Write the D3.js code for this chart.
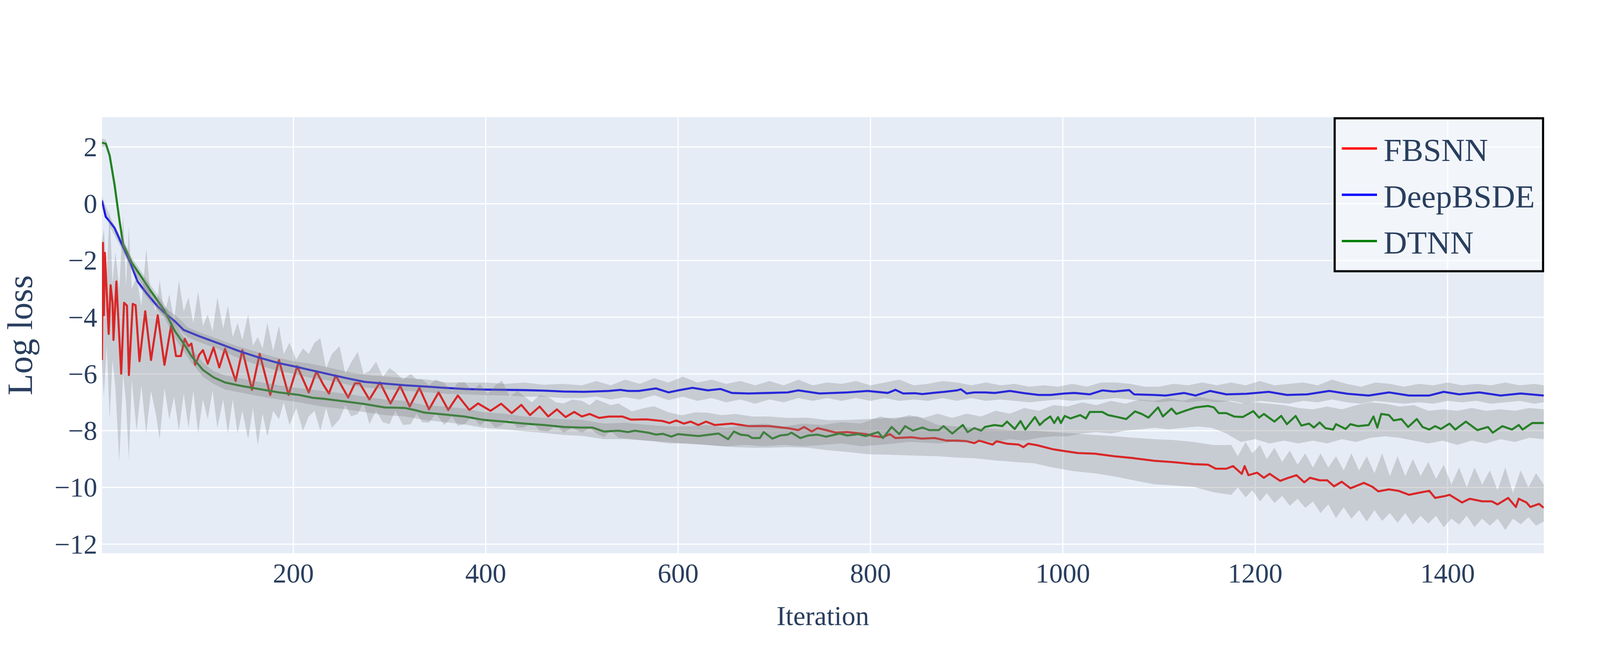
<!DOCTYPE html>
<html>
<head>
<meta charset="utf-8">
<script src="https://cdn.jsdelivr.net/npm/d3@7"></script>
<style>
  body { margin: 0; background: #fff; }
  text { font-family: "Liberation Serif", "Times New Roman", serif; fill: #2a3f5f; }
</style>
</head>
<body>
<div id="chart"></div>
<script>
// series names + colours
const seriesNames = ["FBSNN", "DeepBSDE", "DTNN"];
const seriesColors = ["#ff0000", "#0000ff", "#008000"];
const xTicks = [200, 400, 600, 800, 1000, 1200, 1400];
const yTicks = [2, 0, -2, -4, -6, -8, -10, -12];

// mean log loss, [iteration, value]
const fbsnn = [[1,-5.51],[2,-1.38],[3,-3.93],[4,-1.73],[8,-4.59],[10,-2.87],[12,-3.49],[13,-4.80],[16,-2.74],[21,-5.99],[24,-3.49],[27,-3.59],[29,-6.04],[33,-3.53],[36,-3.58],[40,-5.55],[46,-3.79],[52,-5.51],[59,-3.93],[66,-5.68],[73,-4.28],[78,-5.37],[83,-5.37],[87,-4.76],[91,-5.02],[94,-4.93],[98,-5.68],[102,-5.33],[106,-5.16],[111,-5.64],[117,-5.07],[123,-5.77],[129,-5.11],[140,-6.25],[147,-5.16],[157,-6.56],[165,-5.29],[176,-6.74],[185,-5.51],[195,-6.74],[204,-5.73],[216,-6.65],[224,-5.91],[231,-6.37],[237,-6.69],[244,-6.05],[257,-6.83],[264,-6.33],[269,-6.33],[279,-6.90],[290,-6.30],[301,-7.04],[311,-6.42],[321,-7.15],[331,-6.49],[341,-7.25],[351,-6.65],[361,-7.27],[371,-6.76],[383,-7.27],[392,-7.04],[405,-7.30],[416,-7.05],[427,-7.38],[437,-7.09],[446,-7.45],[456,-7.15],[465,-7.50],[474,-7.25],[483,-7.52],[492,-7.34],[500,-7.50],[508,-7.41],[518,-7.55],[528,-7.50],[542,-7.50],[551,-7.61],[567,-7.60],[584,-7.66],[591,-7.73],[598,-7.64],[606,-7.75],[613,-7.68],[621,-7.80],[629,-7.68],[638,-7.80],[656,-7.75],[673,-7.84],[694,-7.84],[714,-7.91],[725,-7.98],[731,-7.87],[739,-8.03],[745,-7.91],[754,-7.98],[764,-8.07],[776,-8.05],[795,-8.12],[803,-8.19],[813,-8.23],[820,-8.12],[826,-8.26],[843,-8.23],[853,-8.28],[867,-8.26],[879,-8.35],[890,-8.35],[900,-8.37],[908,-8.44],[913,-8.35],[927,-8.49],[931,-8.37],[942,-8.46],[954,-8.49],[959,-8.58],[964,-8.46],[973,-8.51],[989,-8.65],[1002,-8.72],[1016,-8.79],[1033,-8.81],[1053,-8.90],[1074,-8.97],[1095,-9.06],[1115,-9.11],[1136,-9.18],[1151,-9.20],[1159,-9.34],[1170,-9.34],[1177,-9.25],[1186,-9.52],[1189,-9.25],[1193,-9.57],[1202,-9.48],[1209,-9.66],[1215,-9.52],[1226,-9.77],[1233,-9.68],[1243,-9.57],[1251,-9.82],[1257,-9.66],[1267,-9.75],[1275,-9.75],[1282,-9.96],[1290,-9.80],[1299,-10.03],[1313,-9.84],[1322,-9.98],[1328,-10.14],[1339,-10.07],[1349,-10.12],[1360,-10.26],[1370,-10.19],[1381,-10.12],[1387,-10.37],[1398,-10.30],[1402,-10.26],[1415,-10.53],[1423,-10.40],[1436,-10.49],[1446,-10.49],[1452,-10.60],[1463,-10.37],[1471,-10.69],[1474,-10.40],[1482,-10.53],[1486,-10.69],[1495,-10.58],[1500,-10.72]];

const deepbsde = [[1,0.11],[5,-0.46],[7,-0.54],[14,-0.85],[21,-1.38],[30,-2.04],[38,-2.74],[48,-3.18],[59,-3.62],[69,-3.93],[77,-4.15],[86,-4.45],[102,-4.67],[123,-4.93],[144,-5.20],[164,-5.42],[185,-5.62],[206,-5.77],[212,-5.82],[233,-5.98],[254,-6.14],[274,-6.28],[295,-6.34],[316,-6.40],[336,-6.44],[357,-6.49],[378,-6.53],[398,-6.55],[419,-6.56],[440,-6.57],[461,-6.59],[481,-6.62],[502,-6.63],[528,-6.60],[540,-6.56],[548,-6.60],[559,-6.60],[577,-6.51],[590,-6.65],[600,-6.58],[615,-6.49],[631,-6.58],[644,-6.53],[656,-6.67],[673,-6.69],[694,-6.67],[714,-6.65],[725,-6.58],[747,-6.69],[776,-6.65],[797,-6.60],[818,-6.67],[826,-6.56],[834,-6.69],[846,-6.68],[854,-6.71],[867,-6.66],[877,-6.63],[890,-6.58],[894,-6.54],[900,-6.69],[908,-6.65],[919,-6.65],[929,-6.67],[945,-6.60],[960,-6.68],[975,-6.74],[987,-6.74],[1002,-6.69],[1012,-6.67],[1028,-6.72],[1041,-6.58],[1053,-6.62],[1069,-6.57],[1074,-6.72],[1095,-6.74],[1107,-6.76],[1126,-6.67],[1138,-6.76],[1153,-6.60],[1170,-6.72],[1191,-6.70],[1214,-6.63],[1233,-6.74],[1254,-6.72],[1277,-6.60],[1296,-6.70],[1318,-6.76],[1339,-6.65],[1360,-6.76],[1381,-6.76],[1396,-6.63],[1412,-6.72],[1433,-6.65],[1455,-6.76],[1476,-6.69],[1500,-6.76]];

const dtnn = [[1,2.15],[5,2.12],[9,1.70],[14,0.69],[19,-0.54],[23,-1.42],[32,-2.08],[40,-2.48],[52,-3.09],[65,-3.71],[77,-4.50],[86,-4.93],[94,-5.37],[106,-5.86],[117,-6.12],[129,-6.30],[144,-6.41],[164,-6.53],[185,-6.65],[206,-6.74],[220,-6.84],[233,-6.88],[254,-6.97],[274,-7.06],[295,-7.18],[316,-7.20],[326,-7.27],[336,-7.36],[357,-7.43],[378,-7.50],[398,-7.62],[419,-7.68],[440,-7.75],[461,-7.80],[481,-7.87],[500,-7.89],[511,-7.89],[523,-8.03],[538,-8.00],[548,-8.05],[555,-8.00],[569,-8.07],[577,-8.14],[584,-8.11],[593,-8.21],[600,-8.12],[621,-8.19],[642,-8.10],[652,-8.30],[658,-8.03],[665,-8.14],[673,-8.17],[677,-8.26],[685,-8.26],[689,-8.05],[698,-8.28],[706,-8.17],[714,-8.14],[718,-8.07],[727,-8.26],[735,-8.17],[745,-8.14],[754,-8.21],[768,-8.10],[776,-8.17],[787,-8.12],[795,-8.19],[808,-8.05],[813,-8.26],[822,-7.87],[830,-8.12],[836,-7.84],[844,-8.00],[854,-7.89],[861,-7.98],[871,-7.98],[876,-7.84],[885,-8.10],[896,-7.80],[901,-8.05],[908,-7.91],[915,-8.00],[919,-7.87],[929,-7.80],[937,-7.84],[942,-7.68],[950,-7.94],[956,-7.66],[961,-7.96],[971,-7.52],[976,-7.80],[981,-7.64],[987,-7.50],[991,-7.73],[995,-7.52],[998,-7.73],[1002,-7.48],[1008,-7.57],[1018,-7.45],[1024,-7.57],[1028,-7.34],[1041,-7.34],[1047,-7.45],[1057,-7.52],[1066,-7.59],[1075,-7.32],[1082,-7.41],[1089,-7.54],[1099,-7.18],[1104,-7.50],[1113,-7.22],[1118,-7.41],[1128,-7.29],[1138,-7.18],[1145,-7.15],[1151,-7.13],[1157,-7.18],[1162,-7.38],[1170,-7.38],[1178,-7.50],[1187,-7.52],[1198,-7.31],[1204,-7.54],[1209,-7.41],[1220,-7.68],[1227,-7.48],[1233,-7.77],[1242,-7.48],[1248,-7.82],[1256,-7.75],[1261,-7.89],[1267,-7.71],[1273,-7.91],[1281,-7.96],[1284,-7.77],[1294,-7.94],[1299,-7.77],[1307,-7.84],[1318,-7.80],[1323,-7.50],[1327,-7.89],[1331,-7.41],[1339,-7.45],[1344,-7.64],[1352,-7.59],[1359,-7.87],[1368,-7.59],[1374,-7.87],[1381,-7.96],[1387,-7.84],[1393,-7.94],[1402,-7.75],[1408,-7.96],[1419,-7.68],[1431,-7.98],[1442,-7.87],[1447,-8.07],[1457,-7.84],[1467,-7.96],[1474,-7.80],[1478,-7.96],[1488,-7.73],[1500,-7.73]];

// spread bands, [iteration, lower, upper]
const fbsnnBand = [[1,-5.6,-1.3],[3,-6.8,-0.9],[6,-5.0,-2.5],[9,-7.6,-0.2],[12,-5.5,-2.8],[15,-6.5,-1.7],[19,-9.1,-3.0],[23,-6.0,-0.4],[26,-7.0,-2.9],[29,-9.0,-0.8],[32,-6.2,-3.0],[37,-8.0,-2.6],[42,-6.4,-3.6],[47,-8.1,-1.6],[52,-6.6,-3.3],[57,-7.4,-3.8],[61,-8.3,-2.7],[66,-6.5,-3.9],[71,-7.6,-3.2],[76,-6.8,-4.1],[81,-8.0,-2.7],[86,-6.7,-3.8],[91,-7.9,-3.3],[96,-6.6,-4.2],[101,-8.1,-3.1],[106,-6.9,-4.3],[111,-7.6,-3.9],[116,-6.6,-4.5],[121,-7.9,-3.3],[127,-6.9,-4.4],[132,-8.1,-3.6],[137,-6.9,-4.7],[142,-8.1,-4.2],[147,-7.3,-4.8],[153,-8.3,-3.9],[158,-7.2,-5.0],[163,-8.5,-4.7],[168,-7.4,-5.1],[173,-8.2,-4.2],[179,-7.3,-5.2],[185,-7.6,-4.3],[190,-7.0,-5.3],[196,-7.8,-4.9],[203,-7.2,-5.5],[210,-8.0,-5.1],[216,-7.5,-5.3],[222,-7.3,-4.9],[228,-8.0,-4.74],[234,-7.2,-5.8],[240,-7.9,-5.3],[248,-7.6,-5.02],[254,-7.1,-6.0],[260,-7.5,-5.6],[267,-7.41,-5.22],[273,-7.0,-6.0],[279,-7.77,-5.9],[286,-7.3,-5.57],[293,-7.7,-6.1],[300,-7.77,-5.8],[306,-7.3,-5.94],[314,-7.8,-6.2],[322,-7.77,-6.0],[328,-7.4,-6.19],[334,-7.7,-6.19],[341,-7.72,-6.4],[348,-7.4,-6.2],[357,-7.8,-6.33],[365,-7.5,-6.6],[371,-7.82,-6.3],[378,-7.77,-6.29],[386,-7.5,-6.6],[394,-7.82,-6.35],[402,-7.6,-6.7],[410,-7.9,-6.4],[417,-7.8,-6.23],[425,-7.6,-6.8],[433,-7.9,-6.6],[440,-7.88,-6.79],[448,-7.7,-7.0],[456,-8.0,-6.75],[465,-8.03,-6.81],[473,-7.8,-7.0],[481,-8.07,-7.04],[490,-7.9,-6.9],[500,-8.07,-6.95],[508,-7.9,-7.1],[515,-8.1,-6.9],[523,-8.23,-7.0],[530,-8.0,-7.1],[538,-8.25,-7.04],[552,-8.3,-7.32],[565,-8.35,-7.2],[575,-8.37,-7.14],[590,-8.4,-7.35],[604,-8.45,-7.46],[618,-8.48,-7.35],[631,-8.51,-7.37],[645,-8.55,-7.45],[660,-8.58,-7.41],[677,-8.6,-7.5],[694,-8.6,-7.5],[714,-8.58,-7.55],[735,-8.6,-7.54],[756,-8.69,-7.63],[776,-8.75,-7.62],[797,-8.83,-7.59],[820,-8.85,-7.55],[849,-8.88,-7.5],[870,-8.9,-7.8],[890,-8.95,-7.85],[908,-8.97,-7.9],[930,-9.05,-7.95],[950,-9.1,-8.0],[970,-9.15,-8.0],[990,-9.3,-8.05],[1012,-9.43,-8.1],[1033,-9.5,-8.15],[1053,-9.61,-8.19],[1074,-9.75,-8.25],[1095,-9.89,-8.3],[1115,-9.93,-8.33],[1136,-9.98,-8.4],[1157,-10.17,-8.51],[1175,-10.26,-8.5],[1182,-10.0,-8.9],[1190,-10.35,-8.4],[1197,-10.1,-8.8],[1205,-10.49,-8.5],[1212,-10.2,-9.0],[1220,-10.55,-8.6],[1228,-10.3,-9.1],[1236,-10.65,-8.7],[1244,-10.4,-9.2],[1252,-10.72,-8.8],[1260,-10.5,-9.3],[1268,-10.9,-8.8],[1276,-10.6,-9.3],[1284,-11.08,-8.9],[1292,-10.7,-9.4],[1300,-11.1,-8.8],[1308,-10.8,-9.4],[1316,-11.2,-8.9],[1324,-10.8,-9.5],[1332,-11.18,-8.8],[1340,-10.9,-9.6],[1348,-11.25,-8.9],[1356,-10.9,-9.6],[1364,-11.3,-9.0],[1372,-11.0,-9.6],[1380,-11.27,-9.1],[1388,-11.0,-9.7],[1396,-11.4,-9.2],[1404,-11.1,-9.9],[1412,-11.31,-9.3],[1420,-11.0,-10.0],[1428,-11.4,-9.3],[1436,-11.1,-9.9],[1444,-11.35,-9.4],[1452,-11.1,-10.1],[1460,-11.5,-9.3],[1468,-11.1,-10.2],[1476,-11.3,-9.4],[1484,-11.05,-10.0],[1492,-11.35,-9.5],[1500,-11.2,-9.9]];

const deepbsdeBand = [[1,-0.05,0.25],[10,-0.85,-0.5],[20,-1.5,-1.15],[30,-2.2,-1.85],[40,-2.95,-2.6],[50,-3.4,-3.05],[60,-3.8,-3.45],[70,-4.1,-3.75],[80,-4.4,-4.0],[90,-4.7,-4.35],[100,-4.85,-4.5],[120,-5.1,-4.75],[140,-5.4,-5.0],[160,-5.65,-5.2],[180,-5.85,-5.4],[200,-6.0,-5.55],[220,-6.15,-5.65],[240,-6.25,-5.8],[260,-6.4,-5.95],[280,-6.5,-6.05],[300,-6.55,-6.1],[320,-6.6,-6.15],[340,-6.65,-6.2],[360,-6.7,-6.3],[380,-6.72,-6.3],[400,-6.75,-6.3],[420,-6.76,-6.35],[440,-6.8,-6.3],[460,-6.8,-6.38],[480,-6.85,-6.35],[500,-6.85,-6.4],[515,-6.8,-6.25],[530,-6.9,-6.4],[545,-6.82,-6.2],[560,-6.9,-6.35],[575,-6.75,-6.15],[590,-6.92,-6.3],[605,-6.8,-6.1],[620,-6.95,-6.3],[635,-6.85,-6.2],[650,-7.0,-6.35],[665,-6.9,-6.25],[680,-7.05,-6.4],[695,-6.9,-6.25],[710,-7.0,-6.4],[725,-6.85,-6.2],[740,-6.95,-6.4],[755,-6.85,-6.3],[770,-6.95,-6.35],[785,-6.85,-6.25],[800,-6.95,-6.4],[815,-6.85,-6.3],[830,-6.95,-6.2],[845,-6.9,-6.4],[860,-6.95,-6.35],[875,-6.85,-6.25],[890,-6.95,-6.3],[905,-6.85,-6.4],[920,-6.95,-6.3],[935,-6.9,-6.4],[950,-6.95,-6.35],[965,-7.0,-6.45],[980,-6.95,-6.4],[995,-6.9,-6.45],[1010,-6.95,-6.35],[1025,-6.9,-6.45],[1040,-6.9,-6.3],[1055,-6.85,-6.3],[1070,-6.9,-6.35],[1085,-6.95,-6.45],[1100,-7.0,-6.45],[1115,-6.95,-6.35],[1130,-7.0,-6.4],[1145,-6.95,-6.3],[1160,-7.0,-6.4],[1175,-6.95,-6.3],[1190,-7.05,-6.4],[1205,-6.95,-6.25],[1220,-7.0,-6.4],[1235,-7.05,-6.35],[1250,-6.95,-6.3],[1265,-7.0,-6.4],[1280,-6.9,-6.2],[1295,-7.0,-6.35],[1310,-7.05,-6.45],[1325,-6.95,-6.3],[1340,-7.0,-6.35],[1355,-7.05,-6.45],[1370,-7.0,-6.35],[1385,-7.05,-6.4],[1400,-6.95,-6.3],[1415,-7.0,-6.4],[1430,-6.95,-6.35],[1445,-7.05,-6.4],[1460,-7.0,-6.3],[1475,-6.95,-6.4],[1490,-7.05,-6.35],[1500,-7.0,-6.4]];

const dtnnBand = [[1,2.0,2.3],[5,2.0,2.25],[9,1.55,1.85],[14,0.5,0.85],[19,-0.7,-0.35],[23,-1.6,-1.25],[32,-2.3,-1.9],[40,-2.7,-2.3],[52,-3.3,-2.9],[65,-3.95,-3.5],[77,-4.75,-4.25],[86,-5.2,-4.7],[94,-5.6,-5.1],[106,-6.1,-5.6],[117,-6.35,-5.9],[129,-6.55,-6.05],[144,-6.65,-6.15],[164,-6.78,-6.28],[185,-6.9,-6.4],[206,-7.0,-6.5],[230,-7.15,-6.6],[255,-7.25,-6.7],[275,-7.35,-6.8],[295,-7.45,-6.9],[316,-7.5,-6.95],[336,-7.62,-7.1],[357,-7.7,-7.15],[378,-7.78,-7.22],[398,-7.9,-7.35],[419,-7.95,-7.4],[440,-8.02,-7.5],[461,-8.08,-7.55],[481,-8.15,-7.6],[500,-8.18,-7.62],[523,-8.3,-7.75],[545,-8.3,-7.72],[570,-8.35,-7.8],[590,-8.45,-7.85],[610,-8.45,-7.85],[630,-8.5,-7.8],[650,-8.55,-7.9],[670,-8.5,-7.8],[690,-8.55,-7.75],[710,-8.5,-7.85],[730,-8.55,-7.75],[750,-8.5,-7.8],[770,-8.45,-7.7],[790,-8.55,-7.75],[810,-8.5,-7.5],[825,-8.45,-7.6],[840,-8.4,-7.45],[855,-8.42,-7.55],[870,-8.45,-7.4],[885,-8.4,-7.55],[900,-8.42,-7.4],[915,-8.35,-7.5],[930,-8.4,-7.3],[945,-8.3,-7.4],[960,-8.35,-7.2],[975,-8.25,-7.3],[990,-8.2,-7.1],[1005,-8.2,-7.15],[1020,-8.1,-7.0],[1035,-8.05,-7.1],[1050,-8.1,-6.95],[1065,-8.0,-7.05],[1080,-7.95,-6.9],[1095,-7.9,-6.95],[1110,-7.95,-6.85],[1125,-7.9,-6.95],[1140,-7.85,-6.8],[1155,-7.9,-6.9],[1170,-8.1,-6.95],[1185,-8.4,-7.05],[1200,-8.3,-7.0],[1215,-8.45,-7.05],[1230,-8.35,-7.1],[1245,-8.45,-7.2],[1260,-8.35,-7.25],[1275,-8.45,-7.15],[1290,-8.3,-7.25],[1305,-8.4,-7.1],[1320,-8.25,-7.0],[1335,-8.2,-7.05],[1350,-8.25,-7.15],[1365,-8.35,-7.1],[1380,-8.45,-7.3],[1395,-8.35,-7.25],[1410,-8.5,-7.3],[1425,-8.35,-7.2],[1440,-8.45,-7.3],[1455,-8.3,-7.25],[1470,-8.4,-7.3],[1485,-8.25,-7.2],[1500,-8.3,-7.25]];

const lines = [fbsnn, deepbsde, dtnn];
const bands = [fbsnnBand, deepbsdeBand, dtnnBand];

const width = 4194;
const height = 1656;
const margin = {left: 261, right: 242, top: 300, bottom: 240};
const plotW = width - margin.left - margin.right;
const plotH = height - margin.top - margin.bottom;

const svg = d3.select("#chart")
    .append("svg")
    .attr("width", width)
    .attr("height", height);

const x = d3.scaleLinear().domain([1, 1500]).range([0, plotW]);
const y = d3.scaleLinear().domain([-12.32, 3.05]).range([plotH, 0]);

const g = svg.append("g")
    .attr("transform", `translate(${margin.left},${margin.top})`);

g.append("rect")
    .attr("width", plotW)
    .attr("height", plotH)
    .attr("fill", "#e5ecf6");

g.append("clipPath").attr("id", "clip")
    .append("rect").attr("width", plotW).attr("height", plotH);

// grid
g.append("g")
    .selectAll("line")
    .data(xTicks)
    .join("line")
    .attr("x1", d => x(d)).attr("x2", d => x(d))
    .attr("y1", 0).attr("y2", plotH)
    .attr("stroke", "#fff").attr("stroke-width", 3);

g.append("g")
    .selectAll("line")
    .data(yTicks)
    .join("line")
    .attr("x1", 0).attr("x2", plotW)
    .attr("y1", d => y(d)).attr("y2", d => y(d))
    .attr("stroke", "#fff").attr("stroke-width", 3);

const data = g.append("g").attr("clip-path", "url(#clip)");

const line = d3.line()
    .x(d => x(d[0]))
    .y(d => y(d[1]));

const area = d3.area()
    .x(d => x(d[0]))
    .y0(d => y(d[1]))
    .y1(d => y(d[2]));

// mean lines below the translucent bands
data.selectAll("path.mean")
    .data(lines)
    .join("path")
    .attr("class", "mean")
    .attr("d", line)
    .attr("fill", "none")
    .attr("stroke", (d, i) => seriesColors[i])
    .attr("stroke-width", 5.3)
    .attr("stroke-linejoin", "round");

data.selectAll("path.band")
    .data(bands)
    .join("path")
    .attr("class", "band")
    .attr("d", area)
    .attr("fill", "rgba(128,128,128,0.3)")
    .attr("stroke", "none");

// tick labels
const fmt = v => (v < 0 ? "\u2212" + Math.abs(v) : String(v));

g.append("g")
    .selectAll("text")
    .data(yTicks)
    .join("text")
    .attr("x", -12)
    .attr("y", d => y(d))
    .attr("dy", "0.34em")
    .attr("text-anchor", "end")
    .attr("font-size", 70)
    .text(fmt);

g.append("g")
    .selectAll("text")
    .data(xTicks)
    .join("text")
    .attr("x", d => x(d))
    .attr("y", plotH + 75)
    .attr("text-anchor", "middle")
    .attr("font-size", 70)
    .text(d => d);

// axis titles
svg.append("text")
    .attr("x", margin.left + plotW / 2)
    .attr("y", 1600)
    .attr("text-anchor", "middle")
    .attr("font-size", 70)
    .text("Iteration");

svg.append("text")
    .attr("transform", `translate(82,${margin.top + plotH / 2}) rotate(-90)`)
    .attr("text-anchor", "middle")
    .attr("font-size", 90)
    .text("Log loss");

// legend
const legend = svg.append("g").attr("transform", "translate(3414,300)");

legend.append("rect")
    .attr("x", 2.75).attr("y", 2.75)
    .attr("width", 539 - 5.5).attr("height", 397 - 5.5)
    .attr("fill", "rgba(255,255,255,0.5)")
    .attr("stroke", "#000")
    .attr("stroke-width", 5.5);

const item = legend.selectAll("g.item")
    .data(seriesNames)
    .join("g")
    .attr("class", "item")
    .attr("transform", (d, i) => `translate(0,${80 + i * 118.5})`);

item.append("line")
    .attr("x1", 21).attr("x2", 111)
    .attr("y1", 0).attr("y2", 0)
    .attr("stroke", (d, i) => seriesColors[i])
    .attr("stroke-width", 6);

item.append("text")
    .attr("x", 128)
    .attr("y", 32)
    .attr("font-size", 83)
    .text(d => d);
</script>
</body>
</html>
